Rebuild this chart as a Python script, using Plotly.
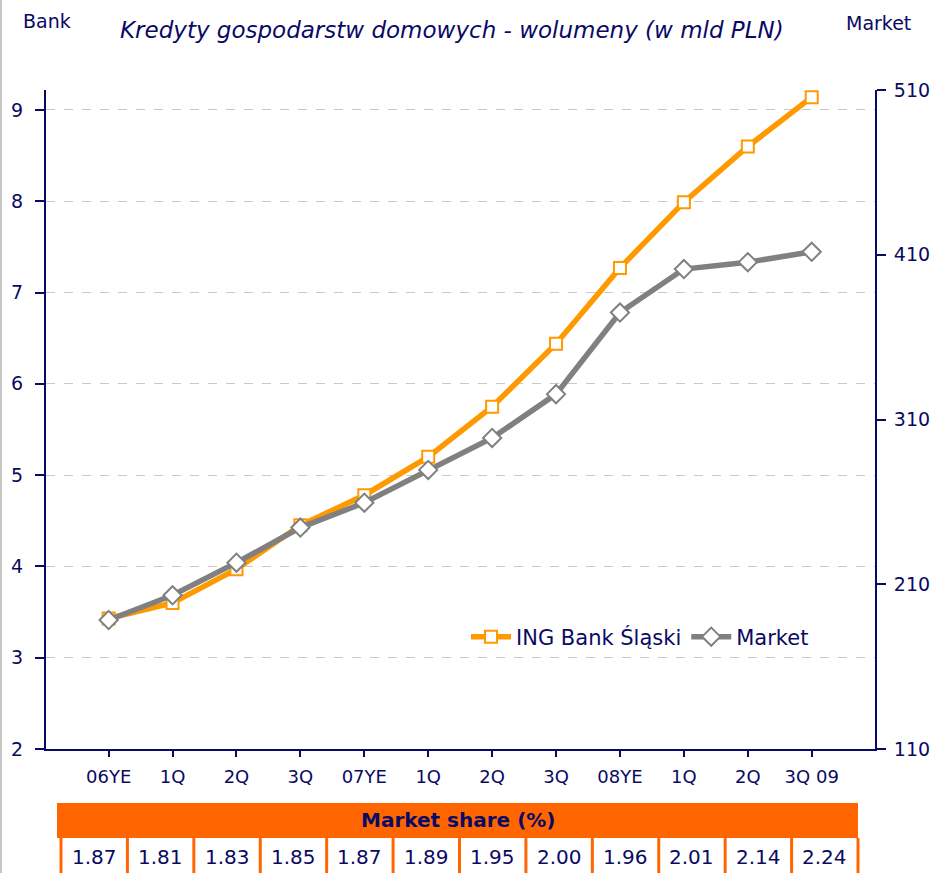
import plotly.graph_objects as go

# ---- data ----
categories = ["06YE", "1Q", "2Q", "3Q", "07YE", "1Q", "2Q", "3Q", "08YE", "1Q", "2Q", "3Q 09"]
ing_bank = [3.43, 3.60, 3.97, 4.45, 4.78, 5.20, 5.75, 6.44, 7.27, 7.99, 8.60, 9.14]
market = [188.3, 203.3, 223.1, 244.4, 259.5, 279.4, 298.8, 325.4, 374.9, 401.3, 405.5, 411.8]
market_share = ["1.87", "1.81", "1.83", "1.85", "1.87", "1.89", "1.95", "2.00", "1.96", "2.01", "2.14", "2.24"]
left_ticks = [2, 3, 4, 5, 6, 7, 8, 9]
right_ticks = [110, 210, 310, 410, 510]

NAVY = "#0a0a64"
ORANGE = "#FF9900"
GREY = "#808080"
BAND = "#FF6600"
FONT = "DejaVu Sans, Liberation Sans, Arial, sans-serif"

W, H = 943, 873
L, R, T, B = 46, 875, 90, 749


def px(x):
    return (x - L) / (R - L)


def py(y):
    return (B - y) / (B - T)


xs = list(range(len(categories)))

fig = go.Figure()
fig.add_trace(go.Scatter(
    x=xs, y=ing_bank, name="ING Bank Śląski", mode="lines+markers",
    line=dict(color=ORANGE, width=5.5),
    marker=dict(symbol="square", size=12, color="white", line=dict(color=ORANGE, width=2)),
    yaxis="y",
))
fig.add_trace(go.Scatter(
    x=xs, y=market, name="Market", mode="lines+markers",
    line=dict(color=GREY, width=5.5),
    marker=dict(symbol="diamond", size=14, color="white", line=dict(color=GREY, width=2)),
    yaxis="y2",
))

fig.update_layout(
    width=W, height=H,
    margin=dict(l=L, r=W - R, t=T, b=H - B, pad=0),
    paper_bgcolor="white", plot_bgcolor="white",
    font=dict(family=FONT, color=NAVY, size=18),
    showlegend=True,
    legend=dict(
        orientation="h", x=px(466), y=py(637), xanchor="left", yanchor="middle",
        font=dict(size=21, color=NAVY, family=FONT), bgcolor="rgba(0,0,0,0)",
        itemwidth=40, tracegroupgap=0,
    ),
    xaxis=dict(
        range=[-0.98, 11.99], tickmode="array", tickvals=xs, ticktext=categories,
        showgrid=False, zeroline=False, showline=True, linecolor=NAVY, linewidth=2,
        ticks="outside", ticklen=6, tickwidth=1.5, tickcolor=NAVY,
        tickfont=dict(size=18, color=NAVY, family=FONT), ticklabelstandoff=4,
    ),
    yaxis=dict(
        range=[2, 2 + (B - T) / 91.29], tickmode="array", tickvals=left_ticks,
        showgrid=True, gridcolor="#c8c8c8", griddash="dash", gridwidth=1,
        zeroline=False, showline=True, linecolor=NAVY, linewidth=2,
        ticks="outside", ticklen=9, tickwidth=1.5, tickcolor=NAVY,
        tickfont=dict(size=19, color=NAVY, family=FONT), ticklabelstandoff=8,
    ),
    yaxis2=dict(
        range=[110, 510], overlaying="y", side="right", tickmode="array", tickvals=right_ticks,
        showgrid=False, zeroline=False, showline=True, linecolor=NAVY, linewidth=2,
        ticks="outside", ticklen=9, tickwidth=1.5, tickcolor=NAVY,
        tickfont=dict(size=19, color=NAVY, family=FONT), ticklabelstandoff=4,
    ),
)

annotations = [
    dict(text="Kredyty gospodarstw domowych - wolumeny (w mld PLN)", x=px(452), y=py(30),
         xref="paper", yref="paper", showarrow=False, xanchor="center", yanchor="middle",
         font=dict(size=23, color=NAVY, family=FONT, style="italic")),
    dict(text="Bank", x=px(47), y=py(21), xref="paper", yref="paper", showarrow=False,
         xanchor="center", yanchor="middle", font=dict(size=19, color=NAVY, family=FONT)),
    dict(text="Market", x=px(878), y=py(23), xref="paper", yref="paper", showarrow=False,
         xanchor="center", yanchor="middle", font=dict(size=19, color=NAVY, family=FONT)),
    dict(text="<b>Market share (%)</b>", x=px(458), y=py(820), xref="paper", yref="paper",
         showarrow=False, xanchor="center", yanchor="middle",
         font=dict(size=20, color=NAVY, family=FONT)),
]

shapes = [
    # left page border
    dict(type="line", xref="paper", yref="paper", x0=px(1), x1=px(1), y0=py(0), y1=py(H),
         line=dict(color="#c8c8c8", width=2)),
    # header band
    dict(type="rect", xref="paper", yref="paper", x0=px(57), x1=px(858), y0=py(803), y1=py(838),
         fillcolor=BAND, line=dict(width=0)),
]

cell_left = 61
cell_w = (858 - 61) / len(market_share)
for i in range(len(market_share) + 1):
    xb = cell_left + i * cell_w
    shapes.append(dict(type="line", xref="paper", yref="paper", x0=px(xb), x1=px(xb),
                       y0=py(838), y1=py(H + 5), line=dict(color=BAND, width=3)))
for i, v in enumerate(market_share):
    xc = cell_left + (i + 0.5) * cell_w
    annotations.append(dict(text=v, x=px(xc), y=py(857), xref="paper", yref="paper",
                            showarrow=False, xanchor="center", yanchor="middle",
                            font=dict(size=20, color=NAVY, family=FONT)))

fig.update_layout(annotations=annotations, shapes=shapes)

fig.write_html("out.html", config={"displayModeBar": False},
               post_script="document.body.style.margin='0';document.body.style.overflow='hidden';")
